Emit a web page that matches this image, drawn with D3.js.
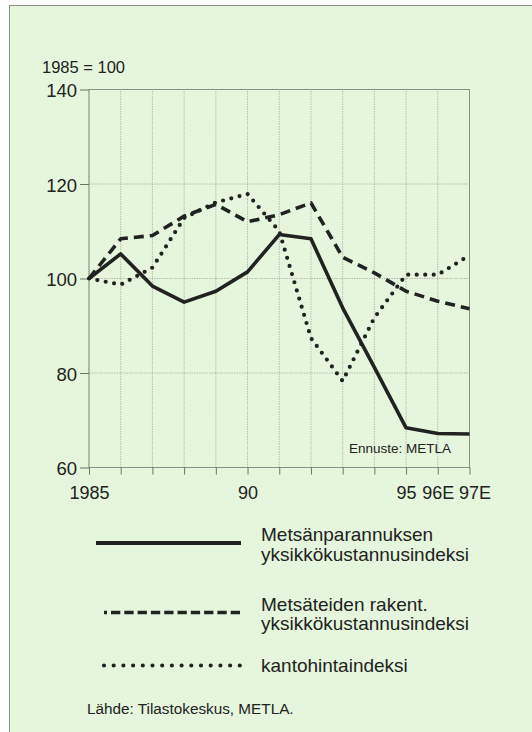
<!DOCTYPE html>
<html>
<head>
<meta charset="utf-8">
<script src="https://cdn.jsdelivr.net/npm/d3@7"></script>
<style>
  body { margin: 0; background: #fff; }
  svg { display: block; font-family: "Liberation Sans", Arial, sans-serif; }
</style>
</head>
<body>
<svg width="532" height="732"></svg>
<script>
// data (index 1985 = 100)
const years = [1985, 1986, 1987, 1988, 1989, 1990, 1991, 1992, 1993, 1994, 1995, 1996, 1997];
const metsanparannus = [100, 105.2, 98.4, 95.0, 97.3, 101.4, 109.3, 108.4, 93.8, 81.2, 68.4, 67.2, 67.1];
const metsateiden = [100, 108.4, 109.1, 113.2, 115.7, 112.0, 113.5, 116.0, 104.5, 101.2, 97.3, 95.2, 93.6];
const kantohinta = [100, 98.7, 102.3, 112.8, 116.1, 117.9, 110.0, 87.4, 78.3, 91.7, 100.8, 100.8, 104.9];
const yTicks = [60, 80, 100, 120, 140];
const xTickLabels = {1985: '1985', 1990: '90', 1995: '95', 1996: '96E', 1997: '97E'};
const seriesNames = [
  ['Metsänparannuksen', 'yksikkökustannusindeksi'],
  ['Metsäteiden rakent.', 'yksikkökustannusindeksi'],
  ['kantohintaindeksi']
];

const svg = d3.select('svg');
const ink = '#222';

// panel background
svg.append('rect')
  .attr('x', 9.5).attr('y', 5.5)
  .attr('width', 540).attr('height', 740)
  .attr('fill', '#e5f6dc')
  .attr('stroke', '#8a8f88');

const x = d3.scaleLinear().domain([1985, 1997]).range([89, 469.5]);
const y = d3.scaleLinear().domain([60, 140]).range([467.5, 89.5]);

// grid
const grid = svg.append('g').attr('stroke', '#a9afa5').attr('stroke-width', 0.8);
grid.selectAll('.vg').data(years).enter().append('line')
  .attr('x1', d => x(d)).attr('x2', d => x(d))
  .attr('y1', y(60)).attr('y2', y(140))
  .attr('stroke-dasharray', '1.5,1');
grid.selectAll('.hg').data(yTicks).enter().append('line')
  .attr('x1', x(1985)).attr('x2', x(1997))
  .attr('y1', d => y(d)).attr('y2', d => y(d))
  .attr('stroke-dasharray', '1.5,1');
svg.append('rect')
  .attr('x', x(1985)).attr('y', y(140))
  .attr('width', x(1997) - x(1985)).attr('height', y(60) - y(140))
  .attr('fill', 'none').attr('stroke', '#8a8f88').attr('stroke-width', 1);

// axes
const yAxis = svg.append('g')
  .attr('transform', `translate(${x(1985)},0)`)
  .call(d3.axisLeft(y).tickValues(yTicks).tickSize(9).tickPadding(3));
yAxis.select('.domain').remove();
yAxis.selectAll('line').attr('stroke', '#6d726b');
yAxis.selectAll('text').attr('font-size', 18.5).attr('fill', ink).attr('font-family', null).attr('dy', '0.4em');

const xAxis = svg.append('g')
  .attr('transform', `translate(0,${y(60)})`)
  .call(d3.axisBottom(x).tickValues(years).tickSize(7).tickPadding(12)
    .tickFormat(d => xTickLabels[d] || ''));
xAxis.select('.domain').remove();
xAxis.selectAll('line').attr('stroke', '#6d726b');
xAxis.selectAll('text').attr('font-size', 18).attr('fill', ink).attr('font-family', null)
  .attr('dx', d => d === 1997 ? 5 : 0);

svg.append('text').text('1985 = 100')
  .attr('x', 42).attr('y', 73).attr('font-size', 16.5).attr('fill', ink);

svg.append('text').text('Ennuste: METLA')
  .attr('x', 349).attr('y', 453).attr('font-size', 13.5).attr('fill', ink);

// lines
const styles = [
  {dash: null, width: 3.6, cap: 'butt'},
  {dash: '10,6', width: 3.6, cap: 'butt'},
  {dash: '0,8.5', width: 4.2, cap: 'round'}
];
const allSeries = [metsanparannus, metsateiden, kantohinta];
const line = d3.line().x((d, i) => x(years[i])).y(d => y(d));

svg.append('g').selectAll('path').data(allSeries).enter().append('path')
  .attr('d', line)
  .attr('fill', 'none')
  .attr('stroke', ink)
  .attr('stroke-width', (d, i) => styles[i].width)
  .attr('stroke-dasharray', (d, i) => styles[i].dash)
  .attr('stroke-linecap', (d, i) => styles[i].cap)
  .attr('stroke-linejoin', 'round');

// legend
const legendY = [543, 612.5, 665.5];
const legendStart = [96, 104, 104];
const legendDash = [null, '3,4' + ',9.3,4'.repeat(12), '0,9.7'];
const lg = svg.append('g');
seriesNames.forEach((names, i) => {
  lg.append('line')
    .attr('x1', legendStart[i]).attr('x2', 241)
    .attr('y1', legendY[i]).attr('y2', legendY[i])
    .attr('stroke', ink)
    .attr('stroke-width', i === 0 ? 4 : styles[i].width)
    .attr('stroke-dasharray', legendDash[i])
    .attr('stroke-linecap', styles[i].cap);
  const t = lg.append('text').attr('font-size', 19).attr('fill', ink);
  const first = names.length === 1 ? legendY[i] + 6.5 : legendY[i] - 2;
  names.forEach((n, j) => {
    t.append('tspan').attr('x', 261).attr('y', first + j * 19.5).text(n);
  });
});

svg.append('text').text('Lähde: Tilastokeskus, METLA.')
  .attr('x', 87).attr('y', 714).attr('font-size', 15.3).attr('fill', ink);
</script>
</body>
</html>
